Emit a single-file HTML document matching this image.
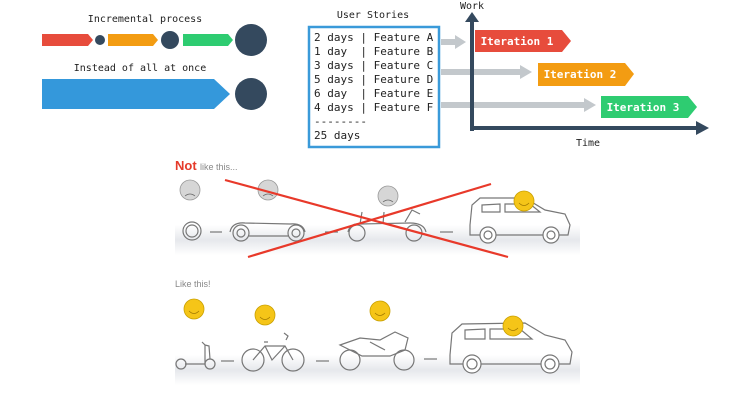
<!DOCTYPE html>
<html><head><meta charset="utf-8"><style>
html,body{margin:0;padding:0;background:#fff;width:750px;height:400px;overflow:hidden}
svg{display:block}
.m{font-family:"DejaVu Sans Mono","Liberation Mono",monospace}
</style></head><body>
<svg width="750" height="400" viewBox="0 0 750 400" xmlns="http://www.w3.org/2000/svg">
<defs>
<linearGradient id="g" x1="0" y1="0" x2="0" y2="1"><stop offset="0" stop-color="#fff"/><stop offset="0.5" stop-color="#e6e8ec"/><stop offset="1" stop-color="#fff"/></linearGradient>
</defs>
<!-- top left -->
<text x="145" y="22" class="m" font-size="10" text-anchor="middle" fill="#222">Incremental process</text>
<polygon points="42,34 88,34 93,40 88,46 42,46" fill="#e74c3c"/>
<circle cx="100" cy="40" r="5" fill="#34495e"/>
<polygon points="108,34 153,34 158,40 153,46 108,46" fill="#f39c12"/>
<circle cx="170" cy="40" r="9" fill="#34495e"/>
<polygon points="183,34 228,34 233,40 228,46 183,46" fill="#2ecc71"/>
<circle cx="251" cy="40" r="16" fill="#34495e"/>
<text x="140" y="71" class="m" font-size="10" text-anchor="middle" fill="#222">Instead of all at once</text>
<polygon points="42,79 214,79 230,94 214,109 42,109" fill="#3498db"/>
<circle cx="251" cy="94" r="16" fill="#34495e"/>
<!-- user stories -->
<text x="373" y="18" class="m" font-size="10" text-anchor="middle" fill="#222">User Stories</text>
<rect x="309" y="27" width="130" height="120" fill="none" stroke="#3a9ad9" stroke-width="2.5"/>
<g class="m" font-size="11" fill="#222">
<text x="314" y="41" xml:space="preserve">2 days | Feature A</text>
<text x="314" y="55" xml:space="preserve">1 day  | Feature B</text>
<text x="314" y="69" xml:space="preserve">3 days | Feature C</text>
<text x="314" y="83" xml:space="preserve">5 days | Feature D</text>
<text x="314" y="97" xml:space="preserve">6 day  | Feature E</text>
<text x="314" y="111" xml:space="preserve">4 days | Feature F</text>
<text x="314" y="125">--------</text>
<text x="314" y="139">25 days</text>
</g>
<!-- grey arrows -->
<g fill="#c3c8cc">
<polygon points="441,39 455,39 455,35 466,42 455,49 455,45 441,45"/>
<polygon points="441,69 520,69 520,65 532,72 520,79 520,75 441,75"/>
<polygon points="441,102 584,102 584,98 596,105 584,112 584,108 441,108"/>
</g>
<!-- axes -->
<g fill="#34495e">
<rect x="470" y="20" width="4" height="111"/>
<polygon points="465,22 472,12 479,22"/>
<rect x="470" y="126" width="228" height="4"/>
<polygon points="696,121 709,128 696,135"/>
</g>
<text x="472" y="9" class="m" font-size="10" text-anchor="middle" fill="#222">Work</text>
<text x="588" y="146" class="m" font-size="10" text-anchor="middle" fill="#222">Time</text>
<polygon points="475,30 562,30 571,41 562,52 475,52" fill="#e74c3c"/>
<text x="517" y="45" class="m" font-size="11" font-weight="bold" text-anchor="middle" fill="#fff">Iteration 1</text>
<polygon points="538,63 625,63 634,74 625,86 538,86" fill="#f39c12"/>
<text x="580" y="78" class="m" font-size="11" font-weight="bold" text-anchor="middle" fill="#fff">Iteration 2</text>
<polygon points="601,96 688,96 697,107 688,118 601,118" fill="#2ecc71"/>
<text x="643" y="111" class="m" font-size="11" font-weight="bold" text-anchor="middle" fill="#fff">Iteration 3</text>
<!-- bottom panel -->
<rect x="175" y="225" width="405" height="30" fill="url(#g)"/>
<rect x="175" y="355" width="405" height="30" fill="url(#g)"/>
<text x="175" y="170" font-family="Liberation Sans,sans-serif" font-size="13" fill="#e53a2a" font-weight="bold">Not</text>
<text x="200" y="170" font-family="Liberation Sans,sans-serif" font-size="9" fill="#888">like this...</text>
<text x="175" y="287" font-family="Liberation Sans,sans-serif" font-size="9" fill="#888">Like this!</text>
<g fill="none" stroke="#777" stroke-width="1.2">
<!-- wheel -->
<circle cx="192" cy="231" r="9"/><circle cx="192" cy="231" r="6"/>
<!-- chassis -->
<line x1="210" y1="232" x2="222" y2="232"/>
<circle cx="241" cy="233" r="8"/><circle cx="296" cy="233" r="8"/>
<circle cx="241" cy="233" r="4"/><circle cx="296" cy="233" r="4"/>
<path d="M230,232 Q232,222 245,223 L290,224 Q303,223 305,232"/>
<line x1="249" y1="236" x2="288" y2="236"/>
<line x1="325" y1="232" x2="338" y2="232"/>
<!-- buggy -->
<circle cx="357" cy="233" r="8"/><circle cx="414" cy="233" r="8"/>
<path d="M348,232 Q350,223 360,224 L410,223 Q424,223 426,232 M360,224 L362,212 M383,224 L384,212 M405,222 L412,210 L420,214"/>
<line x1="440" y1="232" x2="453" y2="232"/>
<!-- SUV top -->
<path d="M470,225 L472,205 L480,198 L525,198 L545,210 L565,214 L570,225 L568,235 L470,235 Z"/>
<path d="M482,205 L500,204 L500,212 L482,212 Z M505,204 L530,204 L540,212 L505,212 Z"/>
<circle cx="488" cy="235" r="8" fill="#fff"/><circle cx="551" cy="235" r="8" fill="#fff"/>
<circle cx="488" cy="235" r="4"/><circle cx="551" cy="235" r="4"/>
<!-- scooter -->
<circle cx="181" cy="364" r="5"/><circle cx="210" cy="364" r="5"/>
<path d="M185,364 L205,364 L205,345 L202,342 M205,345 L209,346 L210,359"/>
<line x1="221" y1="361" x2="234" y2="361"/>
<!-- bike -->
<circle cx="253" cy="360" r="11"/><circle cx="293" cy="360" r="11"/>
<path d="M253,360 L265,346 L285,346 L293,360 M265,346 L272,360 L285,346 M264,342 L268,342 M286,340 L288,336 L284,333"/>
<line x1="316" y1="361" x2="329" y2="361"/>
<!-- motorcycle -->
<circle cx="350" cy="360" r="10"/><circle cx="404" cy="360" r="10"/>
<path d="M340,345 L360,338 L380,340 L395,332 L408,338 L405,350 L390,356 L362,356 Z M370,342 L385,350"/>
<line x1="424" y1="359" x2="437" y2="359"/>
<!-- SUV bottom -->
<path d="M450,355 L452,333 L462,324 L525,323 L545,335 L565,340 L572,352 L570,364 L450,364 Z"/>
<path d="M465,330 L485,329 L485,339 L465,339 Z M490,329 L520,329 L532,339 L490,339 Z"/>
<circle cx="472" cy="364" r="9" fill="#fff"/><circle cx="550" cy="364" r="9" fill="#fff"/>
<circle cx="472" cy="364" r="5"/><circle cx="550" cy="364" r="5"/>
</g>
<!-- faces -->
<g stroke="#999" stroke-width="0.8">
<circle cx="190" cy="190" r="10" fill="#d6d6d6"/>
<circle cx="268" cy="190" r="10" fill="#d6d6d6"/>
<circle cx="388" cy="196" r="10" fill="#d6d6d6"/>
</g>
<g stroke="#c9a000" stroke-width="0.8" fill="#f5c518">
<circle cx="524" cy="201" r="10"/>
<circle cx="194" cy="309" r="10"/>
<circle cx="265" cy="315" r="10"/>
<circle cx="380" cy="311" r="10"/>
<circle cx="513" cy="326" r="10"/>
</g>
<g fill="none" stroke="#666" stroke-width="0.8">
<path d="M185,196 Q190,192 195,196 M263,196 Q268,192 273,196 M383,202 Q388,198 393,202"/>
</g>
<g fill="none" stroke="#a07800" stroke-width="0.8">
<path d="M519,203 Q524,208 529,203 M189,311 Q194,316 199,311 M260,317 Q265,322 270,317 M375,313 Q380,318 385,313 M508,328 Q513,333 518,328"/>
</g>
<!-- red X -->
<g stroke="#e8392a" stroke-width="2.2">
<line x1="225" y1="180" x2="508" y2="257"/>
<line x1="248" y1="257" x2="491" y2="184"/>
</g>
</svg>
</body></html>
